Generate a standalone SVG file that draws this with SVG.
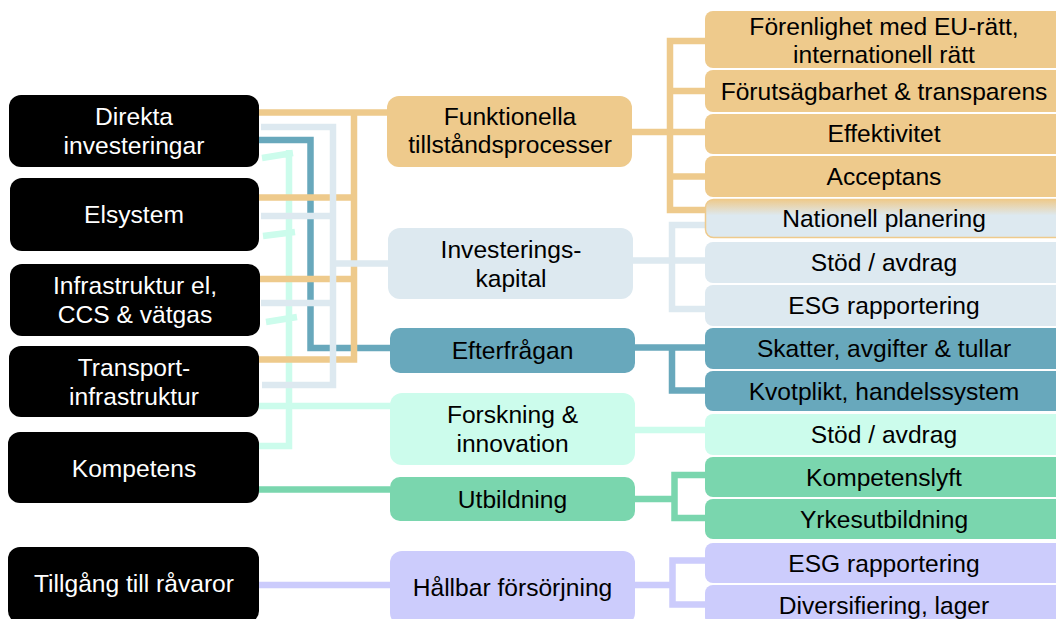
<svg xmlns="http://www.w3.org/2000/svg" width="1056" height="619" viewBox="0 0 1056 619">
<defs>
<linearGradient id="gNat" x1="0" y1="0" x2="0" y2="1">
<stop offset="0" stop-color="#EECA8C"/>
<stop offset="0.42" stop-color="#DDE9F0"/>
<stop offset="1" stop-color="#DDE9F0"/>
</linearGradient>
</defs>
<style>
text{font-family:"Liberation Sans",Arial,sans-serif;font-size:24.6px;text-anchor:middle;fill:#000}
.lt text{fill:#fff}
.blk{fill:#000}
.or{fill:#EECA8C}
.lb{fill:#DDE9F0}
.tl{fill:#68A8BC}
.mt{fill:#CCFCEC}
.gr{fill:#7AD6AE}
.lv{fill:#CCCCFC}
.c{fill:none;stroke-width:6.5;stroke-linecap:butt;stroke-linejoin:miter}
.cor{stroke:#EECA8C}
.clb{stroke:#DDE9F0}
.ctl{stroke:#68A8BC}
.cmt{stroke:#CCFCEC}
.cgr{stroke:#7AD6AE}
.clv{stroke:#CCCCFC}
</style>
<g id="connectors">
<path class="c cmt" d="M259,406 H390 M259,446 H289 V150 M262,158 L293,153 M263,236 L295,232 M266,322 L297,317 M635,430 H705"/>
<path class="c ctl" d="M259,140 H310.5 V348 H390 M635,347.5 H705 M672,347.5 V390.5 H705"/>
<path class="c cor" d="M259,112.5 H387 M259,197.5 H354 M259,279 H354 M259,359.5 H354 V112.5 M632,132 H705 M705,41 H670 V210 H705 M670,91 H705 M670,176.5 H705"/>
<path class="c clb" d="M261,127 H333 V385 H262 M261,216 H333 M261,303 H333 M333,263.5 H388 M633,260.5 H705 M705,225 H672 V309 H705"/>
<path class="c cgr" d="M259,489.5 H390 M635,499 H674.5 M705,475 H674.5 V518 H705"/>
<path class="c clv" d="M259,585 H390 M635,585 H672.5 M705,560.5 H672.5 V604.5 H705"/>
</g>
<g id="n-direkta" class="lt"><rect class="blk" x="9" y="95" width="250" height="72" rx="12"/><text x="134" y="125">Direkta</text><text x="134" y="154">investeringar</text></g>
<g id="n-elsystem" class="lt"><rect class="blk" x="10" y="178" width="249" height="73" rx="12"/><text x="134" y="223">Elsystem</text></g>
<g id="n-infra" class="lt"><rect class="blk" x="10" y="264" width="250" height="72" rx="12"/><text x="135" y="294">Infrastruktur el,</text><text x="135" y="323">CCS &amp; vätgas</text></g>
<g id="n-transport" class="lt"><rect class="blk" x="9" y="346" width="250" height="71" rx="12"/><text x="134" y="376">Transport-</text><text x="134" y="405">infrastruktur</text></g>
<g id="n-kompetens" class="lt"><rect class="blk" x="8" y="432" width="251" height="71" rx="12"/><text x="134" y="476.5">Kompetens</text></g>
<g id="n-tillgang" class="lt"><rect class="blk" x="8" y="547" width="251" height="76" rx="12"/><text x="134" y="591.5">Tillgång till råvaror</text></g>

<g id="n-funktionella"><rect class="or" x="387" y="96" width="245" height="71" rx="12"/><text x="510" y="125">Funktionella</text><text x="510" y="153">tillståndsprocesser</text></g>
<g id="n-investeringskapital"><rect class="lb" x="388" y="228" width="245" height="71" rx="12"/><text x="511" y="257.5">Investerings-</text><text x="511" y="286.5">kapital</text></g>
<g id="n-efterfragan"><rect class="tl" x="390" y="328" width="245" height="45" rx="10"/><text x="512.5" y="359">Efterfrågan</text></g>
<g id="n-forskning"><rect class="mt" x="390" y="393" width="245" height="72" rx="12"/><text x="512.5" y="423">Forskning &amp;</text><text x="512.5" y="452">innovation</text></g>
<g id="n-utbildning"><rect class="gr" x="390" y="477" width="245" height="44" rx="10"/><text x="512.5" y="507.5">Utbildning</text></g>
<g id="n-hallbar"><rect class="lv" x="390" y="551" width="245" height="74" rx="12"/><text x="512.5" y="595.5">Hållbar försörjning</text></g>

<g id="n-forenlighet"><rect class="or" x="705" y="11" width="360" height="57" rx="8"/><text x="884" y="35">Förenlighet med EU-rätt,</text><text x="884" y="63">internationell rätt</text></g>
<g id="n-forutsagbarhet"><rect class="or" x="705" y="70" width="360" height="42" rx="8"/><text x="884" y="100">Förutsägbarhet &amp; transparens</text></g>
<g id="n-effektivitet"><rect class="or" x="705" y="114" width="360" height="40" rx="8"/><text x="884" y="142">Effektivitet</text></g>
<g id="n-acceptans"><rect class="or" x="705" y="156" width="360" height="41" rx="8"/><text x="884" y="185">Acceptans</text></g>
<g id="n-nationell"><rect x="705.5" y="199.5" width="360" height="38" rx="8" fill="url(#gNat)" stroke="#EECA8C" stroke-width="1.5"/><text x="884" y="226.5">Nationell planering</text></g>
<g id="n-stod1"><rect class="lb" x="705" y="242" width="360" height="41" rx="8"/><text x="884" y="271">Stöd / avdrag</text></g>
<g id="n-esg1"><rect class="lb" x="705" y="285" width="360" height="41" rx="8"/><text x="884" y="314">ESG rapportering</text></g>
<g id="n-skatter"><rect class="tl" x="705" y="328" width="360" height="41" rx="8"/><text x="884" y="357">Skatter, avgifter &amp; tullar</text></g>
<g id="n-kvotplikt"><rect class="tl" x="705" y="371" width="360" height="40" rx="8"/><text x="884" y="399.5">Kvotplikt, handelssystem</text></g>
<g id="n-stod2"><rect class="mt" x="705" y="414" width="360" height="41" rx="8"/><text x="884" y="443">Stöd / avdrag</text></g>
<g id="n-kompetenslyft"><rect class="gr" x="705" y="457" width="360" height="40" rx="8"/><text x="884" y="485.5">Kompetenslyft</text></g>
<g id="n-yrkes"><rect class="gr" x="705" y="499" width="360" height="40" rx="8"/><text x="884" y="527.5">Yrkesutbildning</text></g>
<g id="n-esg2"><rect class="lv" x="705" y="543" width="360" height="40" rx="8"/><text x="884" y="571.5">ESG rapportering</text></g>
<g id="n-diversifiering"><rect class="lv" x="705" y="585" width="360" height="40" rx="8"/><text x="884" y="613.5">Diversifiering, lager</text></g>
</svg>
